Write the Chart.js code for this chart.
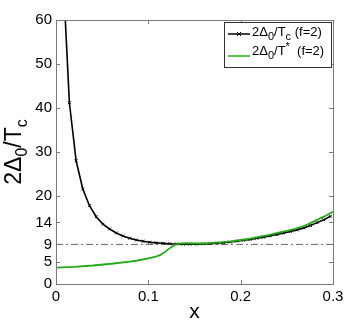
<!DOCTYPE html>
<html><head><meta charset="utf-8">
<script src="https://cdn.jsdelivr.net/npm/chart.js@4/dist/chart.umd.min.js"></script>
<style>html,body{margin:0;padding:0;background:#fff}</style>
</head><body>
<canvas id="c" width="349" height="327" style="width:349px;height:327px;display:block"></canvas>
<script>
// ---- data ----
const tcX = [0.00725,0.0145,0.0218,0.029,0.0363,0.0435,0.0508,0.058,0.0653,0.0725,0.0798,0.087,0.0943,0.1015,0.1088,0.116,0.1233,0.1305,0.1378,0.145,0.1523,0.1595,0.1668,0.174,0.1813,0.1885,0.1958,0.203,0.2103,0.2175,0.2248,0.232,0.2393,0.2465,0.2538,0.261,0.2683,0.2755,0.2828,0.29,0.2973];
const tcY = [72,41.2,28,21.6,17.8,15.3,13.6,12.5,11.6,10.9,10.4,10.0,9.7,9.5,9.35,9.25,9.15,9.1,9.05,9.05,9.05,9.1,9.2,9.3,9.4,9.55,9.75,9.95,10.15,10.4,10.65,10.95,11.25,11.6,11.95,12.3,12.75,13.3,13.95,14.6,15.4];
const tsX = [0,0.02,0.04,0.06,0.08,0.09,0.1,0.108,0.113,0.118,0.123,0.128,0.133,0.14,0.15,0.16,0.17,0.18,0.19,0.2,0.21,0.22,0.23,0.24,0.25,0.26,0.27,0.28,0.29,0.3];
const tsY = [3.7,3.9,4.2,4.6,5.1,5.4,5.8,6.2,6.6,7.3,8.1,8.8,9.2,9.3,9.2,9.2,9.35,9.5,9.7,10.0,10.3,10.7,11.1,11.6,12.1,12.6,13.3,14.3,15.3,16.4];
const refX = [0,0.3];
const refY = [9,9];
const xTicks = [0,0.1,0.2,0.3];
const yTicks = [0,5,9,14,20,30,40,50,60];

const FONT = '"Liberation Sans", Arial, Helvetica, sans-serif';
const AXIS = '#7a7a7a';
const GREEN = 'rgb(34,170,20)';

function pts(xs, ys){ return xs.map((x,i)=>({x:x,y:ys[i]})); }

function runsWidth(ctx, runs, big, small){
  let w=0;
  for(const r of runs){ ctx.font=(r.s? small: big)+'px '+FONT; w+=ctx.measureText(r.t).width; }
  return w;
}
function drawRuns(ctx, runs, x, y, big, small, subOff, supOff){
  for(const r of runs){
    ctx.font=(r.s? small: big)+'px '+FONT;
    let dy = r.s===1 ? subOff : (r.s===2 ? -supOff : 0);
    ctx.fillText(r.t, x, y+dy);
    x += ctx.measureText(r.t).width;
  }
  return x;
}

const decor = {
  id:'decor',
  afterDraw(chart){
    const ctx = chart.ctx, a = chart.chartArea;
    const xs = chart.scales.x, ys = chart.scales.y;
    ctx.save();
    ctx.strokeStyle = AXIS; ctx.lineWidth = 1;
    ctx.strokeRect(Math.round(a.left)+0.5, Math.round(a.top)+0.5, Math.round(a.right-a.left), Math.round(a.bottom-a.top));
    ctx.beginPath();
    for(const v of xTicks){
      const p = Math.round(xs.getPixelForValue(v))+0.5;
      ctx.moveTo(p, a.bottom); ctx.lineTo(p, a.bottom-4);
      ctx.moveTo(p, a.top); ctx.lineTo(p, a.top+4);
    }
    for(const v of yTicks){
      const p = Math.round(ys.getPixelForValue(v))+0.5;
      ctx.moveTo(a.left, p); ctx.lineTo(a.left+4, p);
      ctx.moveTo(a.right, p); ctx.lineTo(a.right-4, p);
    }
    ctx.stroke();
    ctx.fillStyle = '#000';
    ctx.font = '21px '+FONT; ctx.textAlign='center'; ctx.textBaseline='alphabetic';
    ctx.fillText('x', (a.left+a.right)/2, 318);
    ctx.save();
    ctx.translate(21, 152); ctx.rotate(-Math.PI/2);
    ctx.textAlign='left';
    const yr=[{t:'2\u0394',s:0},{t:'0',s:1},{t:'/T',s:0},{t:'c',s:1}];
    const w = runsWidth(ctx, yr, 23, 16);
    drawRuns(ctx, yr, -w/2, 0, 23, 16, 6, 0);
    ctx.restore();
    // legend
    const bx=224, by=22, bw=107, bh=45;
    ctx.fillStyle='#fff'; ctx.fillRect(bx,by,bw,bh);
    ctx.strokeStyle='#333'; ctx.lineWidth=1;
    ctx.strokeRect(bx+0.5,by+0.5,bw,bh);
    const r1=34, r2=56;
    ctx.strokeStyle='#000'; ctx.lineWidth=1.5;
    ctx.beginPath(); ctx.moveTo(228,r1); ctx.lineTo(250,r1); ctx.stroke();
    ctx.lineWidth=1;
    ctx.beginPath(); ctx.moveTo(237,r1-2); ctx.lineTo(241,r1+2); ctx.moveTo(241,r1-2); ctx.lineTo(237,r1+2); ctx.stroke();
    ctx.strokeStyle=GREEN; ctx.lineWidth=1.5;
    ctx.beginPath(); ctx.moveTo(228,r2); ctx.lineTo(250,r2); ctx.stroke();
    ctx.fillStyle='#000'; ctx.textAlign='left'; ctx.textBaseline='alphabetic';
    drawRuns(ctx,[{t:'2\u0394',s:0},{t:'0',s:1},{t:'/T',s:0},{t:'c',s:1},{t:' (f=2)',s:0}],252,r1+2,13,11,4,0);
    drawRuns(ctx,[{t:'2\u0394',s:0},{t:'0',s:1},{t:'/T',s:0},{t:'*',s:2},{t:'  (f=2)',s:0}],252,r2-1,13,11,4,5);
    ctx.restore();
  }
};

new Chart(document.getElementById('c'), {
  type:'scatter',
  data:{ datasets:[
    { label:'2Δ0/T* (f=2)', data:pts(tsX,tsY), showLine:true, borderColor:GREEN, borderWidth:1.8, pointRadius:0, tension:0 },
    { label:'2Δ0/Tc (f=2)', data:pts(tcX,tcY), showLine:true, borderColor:'#000', borderWidth:1.6, pointRadius:2, pointStyle:'crossRot', pointBorderColor:'#000', pointBorderWidth:1, tension:0 },
    { label:'ref', data:pts(refX,refY), showLine:true, borderColor:'#666', borderWidth:1, borderDash:[7,3,2,3], pointRadius:0 }
  ]},
  options:{
    responsive:false, animation:false, devicePixelRatio:1,
    layout:{ padding:{ left:0, right:16, top:20, bottom:0 } },
    plugins:{ legend:{display:false}, tooltip:{enabled:false} },
    scales:{
      x:{ type:'linear', min:0, max:0.3,
        afterBuildTicks(s){ s.ticks = xTicks.map(v=>({value:v})); },
        afterFit(s){ s.height = 43; },
        ticks:{ color:'#000', font:{family:FONT,size:15}, padding:4, maxRotation:0, autoSkip:false, callback:(v)=>String(v) },
        grid:{ display:false, drawTicks:false }, border:{ display:false } },
      y:{ type:'linear', min:0, max:60,
        afterBuildTicks(s){ s.ticks = yTicks.map(v=>({value:v})); },
        afterFit(s){ s.width = 56; },
        ticks:{ color:'#000', font:{family:FONT,size:15}, padding:4, autoSkip:false, callback:(v)=>String(v) },
        grid:{ display:false, drawTicks:false }, border:{ display:false } }
    }
  },
  plugins:[decor]
});
</script>
</body></html>
